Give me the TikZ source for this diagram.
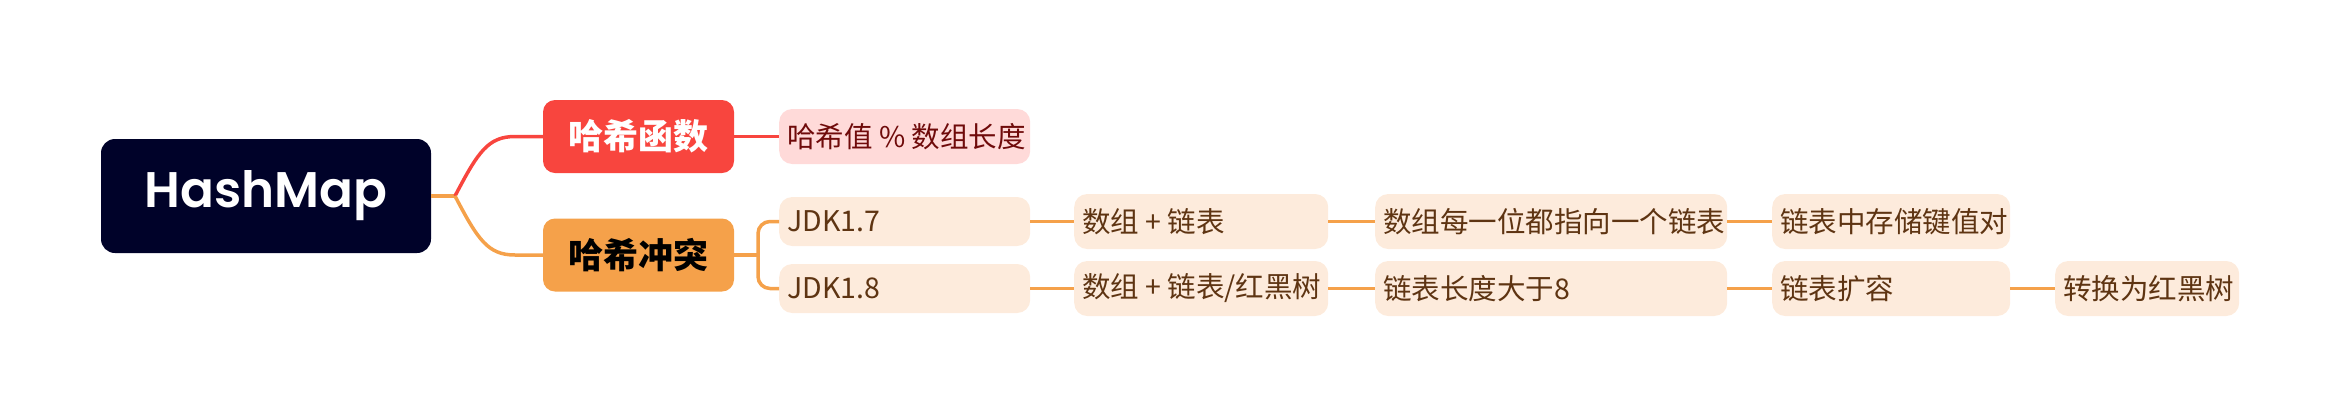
\documentclass[tikz,border=0pt]{standalone}
\usepackage{fontspec}
\usepackage{tikz}
\newfontfamily\cjk{Noto Sans CJK SC}
\newfontfamily\latinfont{Poppins}[BoldFont={* SemiBold}]
\definecolor{rootfill}{HTML}{000229}
\definecolor{redfill}{HTML}{F8453E}
\definecolor{orangefill}{HTML}{F5A14A}
\definecolor{pinkfill}{HTML}{FFDAD9}
\definecolor{pinktext}{HTML}{6F0A0A}
\definecolor{beigefill}{HTML}{FDEBDC}
\definecolor{browntext}{HTML}{5E3412}

\begin{document}
\begin{tikzpicture}[x=1pt,y=-1pt]
    \tikzstyle{root}=[rectangle,rounded corners=14pt,fill=rootfill,text=white,minimum width=330pt,minimum height=114pt,inner sep=0pt,font=\latinfont\bfseries\fontsize{50}{60}\selectfont]
    \tikzstyle{topic}=[rectangle,rounded corners=12pt,minimum width=191pt,minimum height=73pt,inner sep=0pt,font=\cjk\bfseries\fontsize{35}{40}\selectfont]
    \tikzstyle{leaf}=[rectangle,rounded corners=13pt,fill=beigefill,text=browntext,anchor=west,inner xsep=8pt,inner ysep=0pt,font=\cjk\fontsize{28.5}{32}\selectfont]
    \tikzstyle{redline}=[draw=redfill,line width=3.5pt]
    \tikzstyle{orangeline}=[draw=orangefill,line width=3.5pt]
    \useasboundingbox (0,0) rectangle (2340,416);

    \node[root] (R) at (266,196) {HashMap};
    \node[topic,fill=redfill,text=white] (F) at (638.5,136.5) {哈希函数};
    \node[topic,fill=orangefill,text=black] (C) at (638.5,255) {哈希冲突};
    \node[leaf,fill=pinkfill,text=pinktext,minimum height=55pt] (P-1) at (779,136.5) {\makebox[235pt][l]{哈希值 \% 数组长度}};

    \foreach \name/\x/\y/\w/\h/\txt in {A-1/779/221.5/235/49/JDK1.7, A-2/779/288.5/235/49/JDK1.8,
            B-1/1074/221.5/238/55/{数组 + 链表}, B-2/1074/288.5/238/55/{数组 + 链表/红黑树},
            C-1/1375/221.5/336/55/数组每一位都指向一个链表, C-2/1375/288.5/336/55/链表长度大于8,
            D-1/1772/221.5/222/55/链表中存储键值对, D-2/1772/288.5/222/55/链表扩容,
            E-2/2055/288.5/168/55/转换为红黑树}
        \node[leaf,minimum height=\h pt] (\name) at (\x,\y) {\makebox[\w pt][l]{\txt}};

    \coordinate (S-1) at (455,196);
    \coordinate (S-2) at (758,255);
    \draw[orangeline] (R.east) -- (S-1);
    \draw[redline] (S-1) .. controls (478,152) and (488,136.5) .. (515,136.5) -- (F.west);
    \draw[orangeline] (S-1) .. controls (478,240) and (488,255) .. (515,255) -- (C.west);
    \draw[redline] (F.east) -- (P-1.west);
    \draw[orangeline] (C.east) -- (S-2);
    \draw[orangeline,rounded corners=12pt] (S-2) |- (A-1.west);
    \draw[orangeline,rounded corners=12pt] (S-2) |- (A-2.west);

    \foreach \from/\to in {A-1/B-1, B-1/C-1, C-1/D-1, A-2/B-2, B-2/C-2, C-2/D-2, D-2/E-2}
        \draw[orangeline] (\from.east) -- (\to.west);
\end{tikzpicture}
\end{document}
